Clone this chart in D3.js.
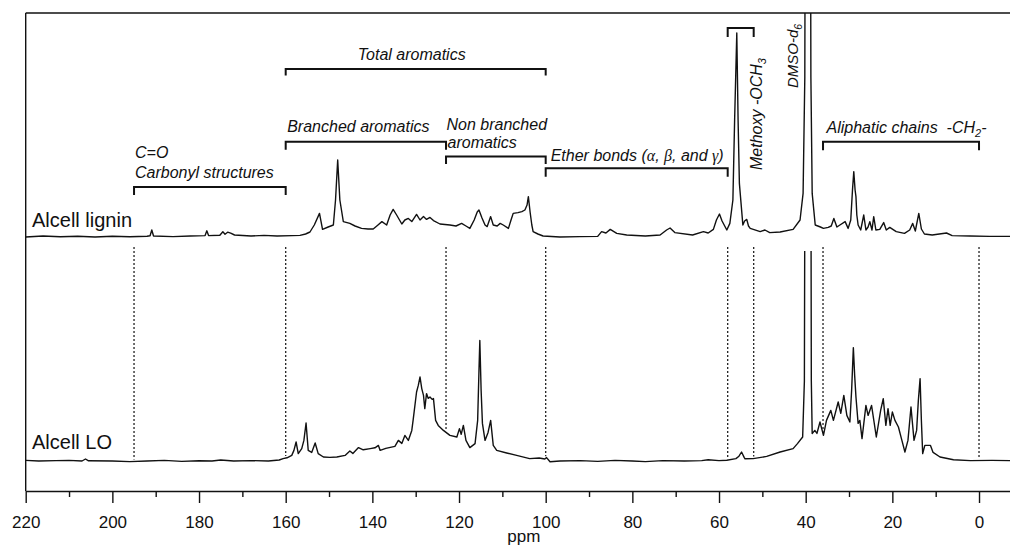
<!DOCTYPE html>
<html><head><meta charset="utf-8">
<script src="https://cdn.jsdelivr.net/npm/d3@7"></script>
<style>
body{margin:0;background:#fff}
svg{display:block;font-family:"Liberation Sans",Arial,sans-serif}
</style>
</head><body>
<script>
// ---------------- DATA ----------------
const xTickValues = [220, 200, 180, 160, 140, 120, 100, 80, 60, 40, 20, 0];
const xMinorTickValues = [210, 190, 170, 150, 130, 110, 90, 70, 50, 30, 10];
const xAxisTitle = "ppm";
const seriesNames = ["Alcell lignin", "Alcell LO"];

const ligninPpm = [220,216,212,208,204,200,196,192,191.3,190.9,190.5,186,182,178.6,178.2,177.8,175.2,174.5,174.0,173.4,172.7,171.8,168,165,162,158.5,156.7,155.4,154.4,153.4,152.2,151.5,150.2,149.0,148.5,148.0,147.5,146.7,145.2,144.0,142.5,141.0,139.8,138.7,137.8,136.7,135.9,135.2,134.4,133.2,132.5,131.7,130.9,129.8,129.0,128.2,127.5,126.7,125.9,124.4,122.1,120.7,119.4,118.4,117.5,116.5,115.8,115.4,114.7,114.0,113.5,112.7,112.1,111.2,110.5,109.8,108.6,108.0,107.5,106.4,105.5,104.8,104.3,104.0,103.6,103.2,102.9,101.8,100.6,96.7,92.1,88,87.1,86.1,85.1,83.6,81.3,77,73.6,72.1,71.3,70.2,66.1,63.6,62.5,61.3,60.6,59.9,59.3,58.2,57.5,56.8,56.4,55.9,55.6,55.3,54.5,54.1,53.6,53.2,52.8,50.5,49.4,48.3,45.9,42.9,41.3,40.6,40.2,39.9,39.1,38.8,38.5,37.8,36.6,35.9,34.8,34.1,33.5,32.8,32.1,30.9,30.2,29.6,29.2,28.9,28.6,28.4,28.2,27.9,27.3,26.6,26.1,25.6,25.2,24.7,24.3,23.8,22.9,22.0,21.4,20.6,19.9,19.1,17.2,16.0,15.3,14.7,13.9,13.3,12.6,10.8,7.5,6.2,2.1,-2.5,-7.15];
const ligninInt = [0,0.5,0.1,0.4,0,0.4,0.1,0.4,0.6,3.5,0.5,0.2,0.5,0.7,3.1,0.7,0.9,2.6,1.4,2.4,1.9,1.0,0.5,0.8,0.5,0.7,0.8,1.5,2.5,6,11.8,3.8,5,6,18.5,38.5,18.5,7.7,6.8,5.5,4.3,4,4,6,7.7,6,11,13.8,11,6.5,8.5,9.3,7.7,11.3,8.5,10.2,8.8,9.8,8.2,6.5,6,5.5,6.8,5.5,4.3,8.5,12.5,13.5,9.5,6,5.2,10.2,6,5.5,6.8,6,4.3,8.5,11.8,12.2,12.7,13.5,16,20.2,12.5,6,2.7,1.5,0.5,0,0.2,0.3,2.7,2,3.8,1.8,1,0.5,1,3.5,4.5,2.2,1,2.7,2,3.8,8.5,11.5,8,3.5,6.8,18.5,58.5,102,58.5,26.8,6,8,8.8,5.5,4.3,2.7,3.5,2.2,2.5,3.8,8.5,21.8,80,400,400,80,21.8,6,5,4.3,4.8,5.5,9.3,5,6,7.7,4.3,8.5,23.5,32.7,23.5,20.2,11,6,3.5,11,3.5,5,7.7,3.5,10.2,3.5,3.8,7.2,3.5,4.8,3.8,2.7,1.8,3.5,6.8,3,11.8,4,1.5,1,2,0.7,0.5,0.3,0.3];

const loPpm = [220,217,213,210,207,206.2,205.5,200,196,192,188,184,180,177,175,172,168,164,161.5,160.6,159.7,158.6,158.1,157.6,157.1,156.3,155.8,155.3,154.8,154.0,153.2,152.5,151.3,149.8,148.2,146.3,145.2,144.5,143.2,142.1,140.5,139.4,138.6,138.2,136.9,134.8,134.0,133.2,132.5,131.7,130.9,130.6,129.8,129.4,129.0,128.6,128.2,127.9,127.5,127.1,126.7,126.2,125.9,125.4,124.8,123.6,122.1,120.5,119.9,119.5,119.0,118.4,117.5,116.3,115.7,115.4,115.2,114.9,114.6,114.0,113.3,112.7,112.1,111.3,109.0,106.7,103.7,101.5,100.2,99.8,99.0,96.7,92,88,84,80,77,73,68,64,62.5,60,58.2,56.1,55.4,54.8,54.2,54.0,52.1,49.0,45.9,42.9,41.9,40.7,40.3,39.9,39.0,38.7,38.5,37.9,37.4,36.7,35.9,35.2,34.2,33.6,32.5,31.9,31.2,30.5,29.8,29.4,29.0,28.7,28.4,27.9,27.5,27.0,26.1,25.6,24.8,23.7,22.7,22.1,21.5,21.0,20.5,20.0,19.4,18.6,17.8,17.1,16.4,15.7,15.0,14.4,14.0,13.6,13.3,13.0,12.5,11.2,10.6,9.0,5.9,2,-3,-7.15];
const loInt = [0.3,0,0.2,0.3,0,1,0.1,0,-0.3,0,0.3,-0.2,0.1,0,0.5,0,0.2,0,0.5,1.2,1.6,2.8,5.3,9.5,3.7,6.2,10.3,19,5.3,4.3,9,3.7,2,1.8,2,2.8,5,3.8,6.7,5.6,6.2,6.6,7.8,5.3,6.3,7.3,10.3,8.8,12.8,10.3,15.3,20.3,34.5,37.8,42,36.2,32.8,26.2,33.7,31.3,32,30.8,31.2,20.3,17.8,15.3,12.8,12,16.2,13.3,17.8,10.3,6.7,8.7,20.3,45,60.3,35.3,18.8,10.3,14.3,20.3,7.8,5.3,4,2.8,1.2,1.5,1.0,1.7,-0.4,0,0.2,-0.2,0.3,0,-0.3,0.2,0,0.2,0.6,0.2,0.4,1.2,2.4,4.5,1.8,1.1,1.2,2.3,4.5,6.2,8.7,12,40,400,400,40,13.7,15.3,13.8,19.5,12.8,20.3,25.3,20.3,29.5,23.8,32.8,22.8,19.5,35.3,56.7,42.8,32,18.8,20.3,11.2,27.8,22.8,27.8,12,25.3,31.2,17.8,26.2,17.8,24.5,20.3,17,10.3,4.5,10.3,27,10.3,15.3,30.3,41.2,20.3,3.7,7.8,7.8,4.3,2,0.6,0.2,0.3,0.2];

// stacking offset of the upper trace (intensity units)
const ligninOffset = 112;

// spectral regions (ppm)
const regionNames = ["Total aromatics", "Branched aromatics", "Non branched aromatics", "C=O Carbonyl structures", "Ether bonds", "Methoxy -OCH3", "Aliphatic chains -CH2-"];
const regionFrom = [160, 160, 123, 195, 100, 58, 36];
const regionTo   = [100, 123, 100, 160, 58, 52, 0];
const dividerPpm = [195, 160, 123, 100, 58, 52, 36, 0];
const solventPpm = 39.5;

// ---------------- LAYOUT ----------------
const W = 1010, H = 545;
const plotLeft = 25.7, plotRight = 1010, plotTop = 13, plotBottom = 491;
const bracketY    = [69, 141.7, 156.5, 187, 168.3, 28, 141.7];
const bracketTick = [6.5, 8, 7.5, 8, 8.5, 9, 8.5];

const svg = d3.select("body").append("svg").attr("width", W).attr("height", H);

const x = d3.scaleLinear().domain([220, -7.15]).range([plotLeft, plotRight]);
const y = d3.scaleLinear().domain([-15, 224]).range([plotBottom, plotTop]);

svg.append("defs").append("clipPath").attr("id", "clipTop")
  .append("rect").attr("x", plotLeft).attr("y", plotTop).attr("width", plotRight - plotLeft).attr("height", plotBottom - plotTop);
svg.select("defs").append("clipPath").attr("id", "clipLow")
  .append("rect").attr("x", plotLeft).attr("y", y(ligninOffset) + 14).attr("width", plotRight - plotLeft).attr("height", plotBottom - y(ligninOffset) - 14);

// interpolate LO trace for divider end
function loAt(p) {
  for (let i = 0; i < loPpm.length - 1; i++) {
    const a = loPpm[i], b = loPpm[i + 1];
    if (p <= a && p >= b) {
      const t = (a - p) / (a - b);
      return loInt[i] + t * (loInt[i + 1] - loInt[i]);
    }
  }
  return 0;
}

// dotted dividers
svg.append("g").selectAll("line").data(dividerPpm).join("line")
  .attr("x1", d => x(d)).attr("x2", d => x(d))
  .attr("y1", y(ligninOffset) + 10)
  .attr("y2", d => y(loAt(d)) - 2)
  .attr("stroke", "#222").attr("stroke-width", 1.3).attr("stroke-dasharray", "2,2");

// spectra
const line = d3.line().x(d => x(d[0])).y(d => y(d[1]));
const ligninData = ligninPpm.map((p, i) => [p, ligninInt[i] + ligninOffset]);
const loData = loPpm.map((p, i) => [p, loInt[i]]);
svg.append("path").datum(ligninData).attr("d", line).attr("clip-path", "url(#clipTop)")
  .attr("fill", "none").attr("stroke", "#111").attr("stroke-width", 1.4).attr("stroke-linejoin", "round");
svg.append("path").datum(loData).attr("d", line).attr("clip-path", "url(#clipLow)")
  .attr("fill", "none").attr("stroke", "#111").attr("stroke-width", 1.4).attr("stroke-linejoin", "round");

// frame: top border and left axis
svg.append("line").attr("x1", plotLeft).attr("x2", plotRight).attr("y1", plotTop).attr("y2", plotTop)
  .attr("stroke", "#111").attr("stroke-width", 1.4);
svg.append("line").attr("x1", plotLeft).attr("x2", plotLeft).attr("y1", plotTop).attr("y2", plotBottom)
  .attr("stroke", "#111").attr("stroke-width", 1.4);

// x axis
const ax = svg.append("g").attr("transform", `translate(0,${plotBottom})`)
  .call(d3.axisBottom(x).tickValues(xTickValues).tickSize(12).tickPadding(13).tickSizeOuter(0).tickFormat(d3.format("d")));
ax.select(".domain").attr("stroke", "#111").attr("stroke-width", 1.4);
ax.selectAll(".tick line").attr("stroke", "#111").attr("stroke-width", 1.4);
ax.selectAll(".tick text").attr("font-family", "Liberation Sans, Arial, sans-serif").attr("font-size", 17).attr("fill", "#111");
const axm = svg.append("g").attr("transform", `translate(0,${plotBottom})`)
  .call(d3.axisBottom(x).tickValues(xMinorTickValues).tickSize(6).tickFormat(""));
axm.select(".domain").remove();
axm.selectAll(".tick line").attr("stroke", "#111").attr("stroke-width", 1.4);

svg.append("text").attr("x", (plotLeft + plotRight) / 2 + 6).attr("y", 542)
  .attr("text-anchor", "middle").attr("font-size", 17).attr("fill", "#111").text(xAxisTitle);

// series labels
svg.append("text").attr("x", 32).attr("y", 226.7).attr("font-size", 20).attr("fill", "#111").text(seriesNames[0]);
svg.append("text").attr("x", 32).attr("y", 449.3).attr("font-size", 20).attr("fill", "#111").text(seriesNames[1]);

// brackets
const bg = svg.append("g").attr("fill", "none").attr("stroke", "#111").attr("stroke-width", 2);
regionFrom.forEach((f, i) => {
  const x1 = x(f), x2 = x(regionTo[i]), yy = bracketY[i], t = bracketTick[i];
  bg.append("path").attr("d", `M${x1},${yy + t}V${yy}H${x2}V${yy + t}`);
});

// annotation texts
const ann = svg.append("g").attr("font-style", "italic").attr("font-size", 16).attr("fill", "#111");
ann.append("text").attr("x", (x(160) + x(100)) / 2 - 4).attr("y", 60).attr("text-anchor", "middle").text("Total aromatics");
ann.append("text").attr("x", x(160) + 1.5).attr("y", 132).text("Branched aromatics");
ann.append("text").attr("x", x(123) + 0.5).attr("y", 129.5).text("Non branched");
ann.append("text").attr("x", x(123) + 1.5).attr("y", 148).text("aromatics");
ann.append("text").attr("x", x(195) + 1).attr("y", 158.3).text("C=O");
ann.append("text").attr("x", x(195) + 1).attr("y", 178.3).text("Carbonyl structures");

const eth = ann.append("text").attr("x", x(100) + 5).attr("y", 160.7);
eth.append("tspan").text("Ether bonds (");
eth.append("tspan").attr("font-family", "Liberation Serif, serif").text("α");
eth.append("tspan").text(", ");
eth.append("tspan").attr("font-family", "Liberation Serif, serif").text("β");
eth.append("tspan").text(", and ");
eth.append("tspan").attr("font-family", "Liberation Serif, serif").text("γ");
eth.append("tspan").text(")");

const ali = ann.append("text").attr("x", x(36) + 3.5).attr("y", 133.3).style("white-space", "pre");
ali.append("tspan").text("Aliphatic chains  -CH");
ali.append("tspan").attr("font-size", 11).attr("dy", 4).text("2");
ali.append("tspan").attr("dy", -4).text("-");

const met = ann.append("text").attr("transform", `translate(${x(52) + 8.3},170) rotate(-90)`);
met.append("tspan").text("Methoxy -OCH");
met.append("tspan").attr("font-size", 11).attr("dy", 4).text("3");

const dm = ann.append("text").attr("font-size", 15).attr("transform", `translate(${x(solventPpm) - 10.3},88) rotate(-90)`);
dm.append("tspan").text("DMSO-d");
dm.append("tspan").attr("font-size", 10.5).attr("dy", 4).text("6");
</script>
</body></html>
